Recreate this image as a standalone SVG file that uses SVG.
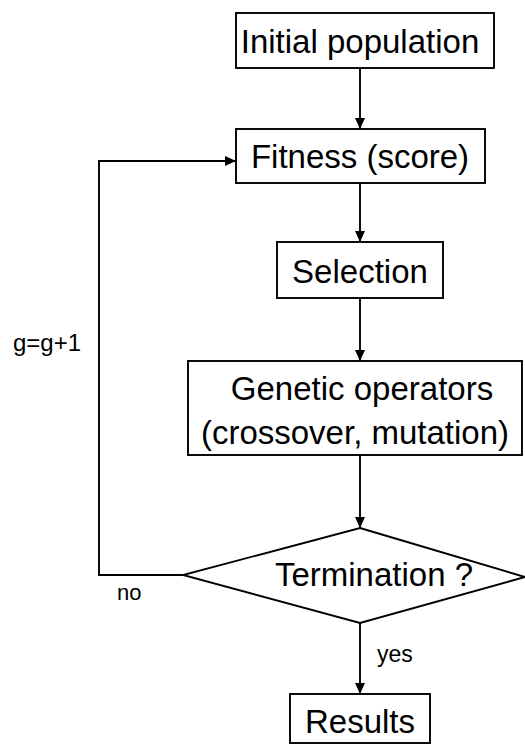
<svg xmlns="http://www.w3.org/2000/svg" width="525" height="744" viewBox="0 0 525 744">
<style>
.box{fill:#fff;stroke:#000;stroke-width:1.9}
.t{font-family:"Liberation Sans",Arial,sans-serif;font-size:33px;fill:#000;text-anchor:middle}
.s{font-family:"Liberation Sans",Arial,sans-serif;font-size:22px;fill:#000}
.c{fill:none;stroke:#000;stroke-width:1.9}
</style>
<defs>
<marker id="ah" markerUnits="userSpaceOnUse" markerWidth="11" markerHeight="10" refX="11" refY="5" orient="auto">
<path d="M0,0 L11,5 L0,10 z" fill="#000"/>
</marker>
</defs>
<rect width="525" height="744" fill="#fff"/>
<g id="connectors">
<line class="c" x1="360" y1="68" x2="360" y2="129" marker-end="url(#ah)"/>
<line class="c" x1="360" y1="183" x2="360" y2="242" marker-end="url(#ah)"/>
<line class="c" x1="360" y1="298" x2="360" y2="361" marker-end="url(#ah)"/>
<line class="c" x1="360" y1="455" x2="360" y2="528" marker-end="url(#ah)"/>
<line class="c" x1="360" y1="623" x2="360" y2="694" marker-end="url(#ah)"/>
<polyline class="c" points="183,575 99,575 99,161 236,161" marker-end="url(#ah)"/>
<text class="s" x="13" y="351" style="font-size:24px">g=g+1</text>
<text class="s" x="117" y="600">no</text>
<text class="s" x="377" y="662" style="font-size:23px">yes</text>
</g>
<g id="initial">
<rect class="box" x="236" y="13" width="258" height="55"/>
<text class="t" x="360" y="53">Initial population</text>
</g>
<g id="fitness">
<rect class="box" x="236" y="129" width="249" height="54"/>
<text class="t" x="360" y="168">Fitness (score)</text>
</g>
<g id="selection">
<rect class="box" x="277" y="242" width="166" height="56"/>
<text class="t" x="360" y="283">Selection</text>
</g>
<g id="genetic">
<rect class="box" x="188" y="361" width="334" height="94"/>
<text class="t" x="362" y="400">Genetic operators</text>
<text class="t" x="355" y="444">(crossover, mutation)</text>
</g>
<g id="termination">
<polygon class="box" points="360,528 525,577 360,623 183,575"/>
<text class="t" x="374" y="586">Termination ?</text>
</g>
<g id="results">
<rect class="box" x="290" y="694" width="140" height="49"/>
<text class="t" x="360" y="733">Results</text>
</g>
</svg>
